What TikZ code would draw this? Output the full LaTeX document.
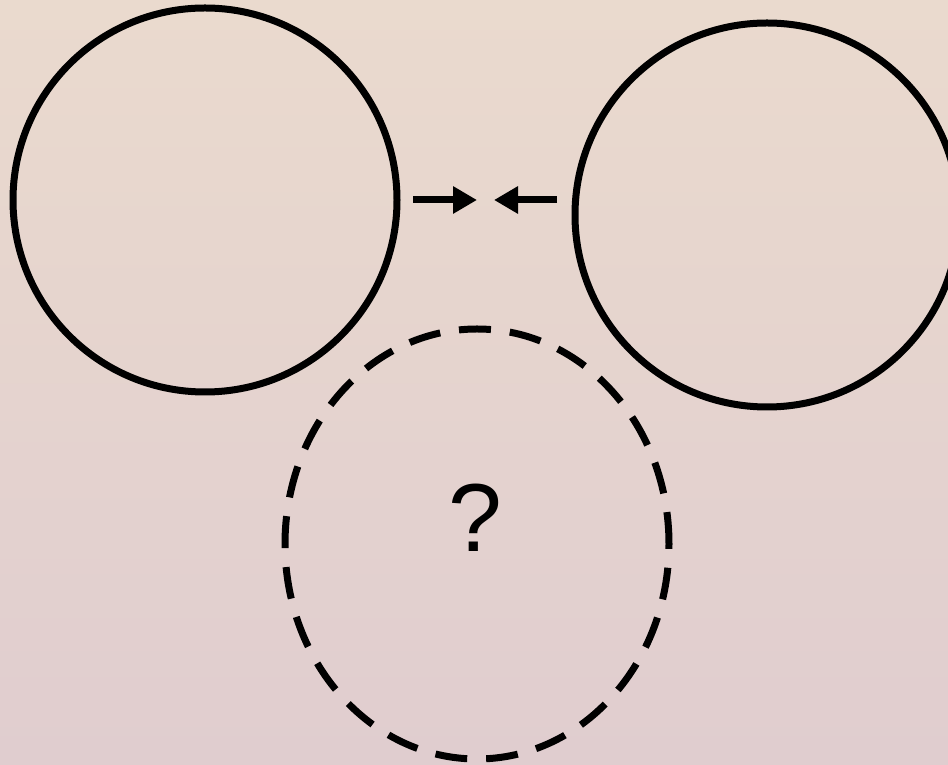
\documentclass[tikz,border=0pt]{standalone}
\usepackage{fontspec}
\setmainfont{Liberation Sans}
\usetikzlibrary{arrows.meta,shapes.geometric}
\definecolor{bgtop}{RGB}{234,218,206}
\definecolor{bgbot}{RGB}{224,205,207}
\begin{document}
\begin{tikzpicture}[
  ball/.style={draw,circle,line width=0.14cm,inner sep=0pt,outer sep=0pt,minimum size=7.68cm},
  unknown/.style={draw,ellipse,line width=0.14cm,dash pattern=on 0.64cm off 0.38cm,inner sep=0pt,outer sep=0pt,minimum width=7.68cm,minimum height=8.6cm},
  push/.style={line width=0.14cm,-{Triangle[length=0.48cm,width=0.52cm]}}]
\shade[top color=bgtop,bottom color=bgbot] (0,0) rectangle (18.96,15.3);
\useasboundingbox (0,0) rectangle (18.96,15.3);
\clip (0,0) rectangle (18.96,15.3);
\node[ball] (left) at (4.10,11.30) {};
\node[ball] (right) at (15.34,11.00) {};
\node[unknown] (guess) at (9.54,4.42) {};
\node[font=\fontsize{55}{60}\selectfont] (mark) at (9.50,4.94) {?};
\coordinate (lefttip) at (9.54,11.30);
\coordinate (righttip) at (9.88,11.30);
\draw[push,shorten <=0.32cm] (left.east) -- (lefttip);
\draw[push,shorten <=0.36cm] (right.west |- righttip) -- (righttip);
\end{tikzpicture}
\end{document}
